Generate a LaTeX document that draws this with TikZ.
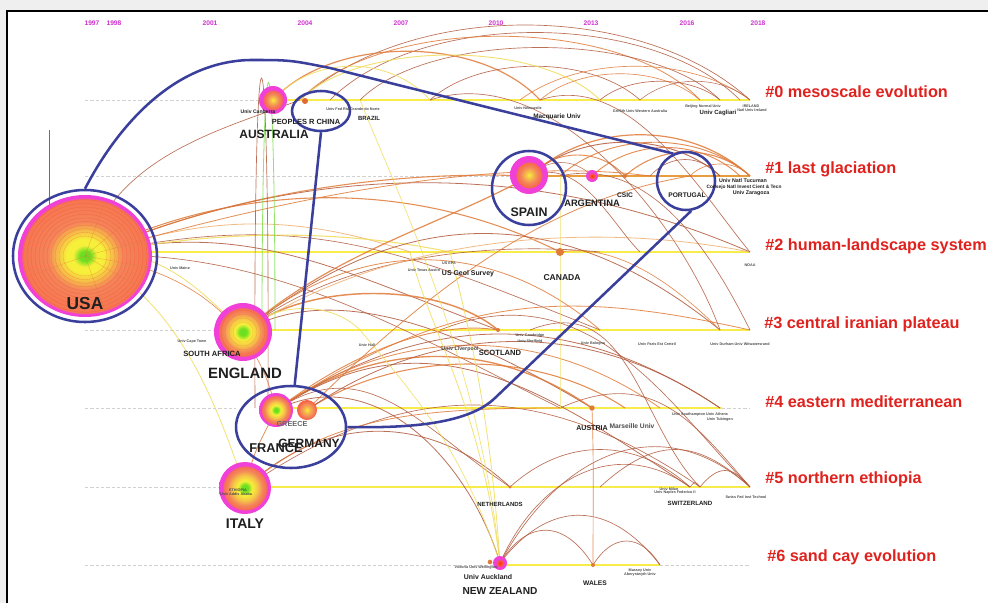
\documentclass[tikz,border=0pt]{standalone}
\usepackage{fontspec}
\setmainfont{Liberation Sans}
\usetikzlibrary{shapes.geometric}
\definecolor{bgc}{HTML}{EFEFEF}
\definecolor{cblue}{HTML}{3B3F9C}
\definecolor{cred}{HTML}{E0221E}
\definecolor{cmag}{HTML}{D030D0}
\definecolor{tl}{HTML}{F7EC4A}
\definecolor{cgreen}{HTML}{6CE020}
\definecolor{cyel}{HTML}{F6F03A}
\definecolor{cora}{HTML}{F4845A}
\definecolor{cpink}{HTML}{F040D8}
\definecolor{aO}{HTML}{E07A38}
\definecolor{aB}{HTML}{B0583A}
\definecolor{aY}{HTML}{F0DC58}
\definecolor{aL}{HTML}{F0B070}
\definecolor{aG}{HTML}{80E050}
\pgfdeclareradialshading{citeA}{\pgfpoint{0bp}{0bp}}{color(0bp)=(cgreen); color(2bp)=(cgreen); color(4.5bp)=(cyel); color(7bp)=(cyel); color(11bp)=(cyel!45!cora); color(14bp)=(cora); color(23.3bp)=(cora!90!red); color(23.8bp)=(cpink); color(25bp)=(cpink); color(50bp)=(cpink)}
\pgfdeclareradialshading{citeE}{\pgfpoint{0bp}{0bp}}{color(0bp)=(cgreen); color(3bp)=(cgreen); color(7bp)=(cyel); color(12bp)=(cyel!60!cora); color(17bp)=(cora); color(20.5bp)=(cora!85!red); color(21.2bp)=(cpink); color(25bp)=(cpink); color(50bp)=(cpink)}
\pgfdeclareradialshading{citeB}{\pgfpoint{0bp}{0bp}}{color(0bp)=(cyel); color(5bp)=(cyel!50!cora); color(11bp)=(cora); color(16.5bp)=(cora!80!red); color(17.5bp)=(cpink); color(25bp)=(cpink); color(50bp)=(cpink)}
\pgfdeclareradialshading{citeC}{\pgfpoint{0bp}{0bp}}{color(0bp)=(cyel); color(7bp)=(cyel!50!cora); color(17bp)=(cora); color(23bp)=(cora!75!red); color(25bp)=(cora!75!red); color(50bp)=(cora!75!red)}
\pgfdeclareradialshading{citeD}{\pgfpoint{0bp}{0bp}}{color(0bp)=(red!60!orange); color(10bp)=(cora!70!red); color(14bp)=(cpink); color(25bp)=(cpink); color(50bp)=(cpink)}
\pgfdeclarelayer{back}
\pgfdeclarelayer{bg}
\pgfsetlayers{back,bg,main}
\begin{document}
\begin{tikzpicture}[x=0.75pt,y=-0.75pt,
  dashl/.style={draw=black!18, line width=0.5pt, dash pattern=on 2.5pt off 1.5pt},
  tline/.style={draw=tl, line width=2.2pt},
  ring/.style={draw=cblue, line width=1.9pt, inner sep=0pt},
  bluel/.style={draw=cblue, line width=1.9pt},
  cnode/.style={inner sep=0pt, outer sep=0pt},
  dotn/.style={circle, inner sep=0pt, fill=aO},
  cty/.style={font=\bfseries\fontsize{#1}{#1}\selectfont, text=black!88, inner sep=0pt},
  clab/.style={font=\bfseries\fontsize{12.2}{13}\selectfont, text=cred, anchor=west, inner sep=0pt},
  yr/.style={font=\bfseries\fontsize{5}{5}\selectfont, text=cmag, inner sep=0pt},
  tinyl/.style={font=\bfseries\fontsize{2.8}{3}\selectfont, text=black!70, inner sep=0pt}
]
\useasboundingbox (0,0) rectangle (988,603);
\begin{pgfonlayer}{back}
\fill[bgc] (0,0) rectangle (988,603);
\fill[white] (7,11) rectangle (988,603);
\draw[black, line width=0.8pt] (7,603) -- (7,11) -- (988,11);
\end{pgfonlayer}

% ---- cited nodes ----
\node[cnode, ellipse, minimum width=100.5pt, minimum height=91.5pt, shading=citeA] (usa) at (85,256) {};
\foreach \r in {22,26,...,62} \draw[red!70!cora, opacity=0.3, line width=0.25pt] (usa.center) ellipse [x radius=\r*0.75pt, y radius=\r*0.68pt];
\foreach \ang in {15,40,70,200,290,330,350} \draw[aO, opacity=0.5, line width=0.3pt] (usa.center) -- (usa.\ang);
\node[cnode, circle, minimum size=21pt, shading=citeB] (aus) at (273,100) {};
\node[cnode, circle, minimum size=28.5pt, shading=citeB] (spain) at (529,175) {};
\node[cnode, circle, minimum size=9pt, shading=citeD] (arg) at (592,176) {};
\node[cnode, circle, minimum size=43.5pt, shading=citeE] (eng) at (243,332) {};
\foreach \r in {10,14,...,22} \draw[red!70!cora, opacity=0.25, line width=0.2pt] (eng.center) circle [radius=\r*0.75pt];
\node[cnode, circle, minimum size=25.5pt, shading=citeE] (fr) at (276,410) {};
\node[cnode, circle, minimum size=15pt, shading=citeC] (ge) at (307,410) {};
\node[cnode, circle, minimum size=39pt, shading=citeE] (it) at (245,488) {};
\node[cnode, circle, minimum size=10.5pt, shading=citeD] (nz) at (500,563) {};
\node[dotn, minimum size=4.5pt, fill=aO!85!red] (dt1) at (305,101) {};
\node[dotn, minimum size=6pt] (dt2) at (560,252) {};
\node[dotn, minimum size=3pt] (dt3) at (625,176) {};
\node[dotn, minimum size=3pt] (dt4) at (498,330) {};
\node[dotn, minimum size=4pt] (dt5) at (592,408) {};
\node[dotn, minimum size=2.5pt] (dt6) at (510,487) {};
\node[dotn, minimum size=3pt] (dt7) at (593,565) {};
\node[dotn, minimum size=3.5pt] (dt8) at (490,562) {};

% ---- timeline anchor points ----
\foreach \x in {273,300,330,360,430,520,540,600,640,700,720,740,750} \coordinate (a\x) at (\x,100);
\foreach \x in {530,560,592,625,650,690,720,740,750} \coordinate (b\x) at (\x,176);
\foreach \x in {410,450,560,600,640,750} \coordinate (c\x) at (\x,252);
\foreach \x in {262,275,360,440,498,530,600,720,750} \coordinate (d\x) at (\x,330);
\foreach \x in {255,268,560,592,625,660,720} \coordinate (e\x) at (\x,408);
\foreach \x in {510,600,690,700,750} \coordinate (f\x) at (\x,487);
\foreach \x in {593,660} \coordinate (g\x) at (\x,565);
\coordinate (v1) at (49,130);
\coordinate (v2) at (49,240);

\begin{pgfonlayer}{bg}
% timelines
\draw[dashl] (85,100) -- (262,100);
\draw[tline] (285,100) -- (750,100);
\draw[dashl] (85,176) -- (510,176);
\draw[draw=aO!70!tl, line width=1.6pt] (545,176) -- (750,176);
\draw[tline] (150,252) -- (750,252);
\draw[dashl] (85,330) -- (214,330);
\draw[tline] (270,330) -- (750,330);
\draw[dashl] (85,408) -- (236,408);
\draw[tline] (290,408) -- (722,408);
\draw[dashl] (722,408) -- (750,408);
\draw[dashl] (85,487) -- (219,487);
\draw[tline] (270,487) -- (750,487);
\draw[dashl] (85,565) -- (493,565);
\draw[tline] (505,565) -- (660,565);
\draw[dashl] (660,565) -- (750,565);
% arcs
\foreach \p/\q/\u/\v/\w/\z/\c/\lw in {
 a300/a750/110/-100/-110/-100/aB/0.5pt,
 a330/a740/90/-90/-90/-90/aB/0.5pt,
 a300/a700/80/-85/-80/-85/aO/0.6pt,
 a360/a720/70/-70/-70/-70/aB/0.5pt,
 a273/a540/60/-65/-60/-65/aO/0.9pt,
 a430/a640/50/-45/-50/-45/aB/0.5pt,
 a520/a750/60/-45/-60/-45/aO/0.5pt,
 a300/a600/60/-60/-60/-60/aY/0.7pt,
 a273/a430/40/-45/-40/-45/aY/0.6pt,
 a600/a720/30/-25/-30/-25/aB/0.5pt,
 a540/a700/40/-35/-40/-35/aO/0.5pt,
 a640/a750/30/-25/-30/-25/aB/0.4pt,
 b530/b750/60/-55/-60/-55/aO/0.9pt,
 b530/b720/50/-45/-50/-45/aB/0.7pt,
 b560/b750/50/-45/-50/-45/aO/0.7pt,
 b592/b740/40/-38/-40/-38/aO/0.7pt,
 b625/b750/35/-32/-35/-32/aO/0.8pt,
 b650/b720/20/-22/-20/-22/aB/0.5pt,
 b530/b625/25/-28/-25/-28/aO/0.7pt,
 b690/b750/15/-16/-15/-16/aO/0.5pt,
 b530/b592/18/-18/-18/-18/aB/0.4pt,
 usa.center/c560/150/-75/-150/-75/aO/0.8pt,
 usa.center/c750/220/-95/-220/-95/aB/0.6pt,
 usa.center/b530/160/-70/-120/-5/aO/0.8pt,
 usa.center/d498/160/-40/-160/-60/aB/0.6pt,
 usa.center/d600/220/-50/-200/-80/aB/0.5pt,
 usa.center/e560/180/-10/-160/-80/aB/0.5pt,
 usa.center/a300/30/-100/-80/30/aB/0.5pt,
 usa.center/eng.center/70/-15/-40/-40/aY/0.6pt,
 usa.center/it.center/90/40/-30/-90/aY/0.6pt,
 usa.center/c410/120/-40/-120/-40/aL/0.6pt,
 usa.center/b650/200/-60/-150/-20/aO/0.6pt,
 usa.center/fr.center/100/10/-20/-90/aO/0.5pt,
 usa.center/c450/120/-25/-120/-25/aY/0.8pt,
 eng.center/d498/60/-50/-60/-50/aO/1.1pt,
 eng.center/d720/160/-130/-160/-130/aB/0.6pt,
 eng.center/d600/110/-95/-110/-95/aO/0.6pt,
 eng.center/c600/100/-80/-100/-10/aB/0.5pt,
 eng.center/e592/100/-60/-100/-60/aB/0.6pt,
 eng.center/b530/90/-80/-90/50/aO/0.9pt,
 eng.center/c750/150/-100/-150/-30/aL/0.6pt,
 eng.center/d360/30/-30/-30/-30/aY/0.6pt,
 fr.center/e592/100/-70/-100/-70/aO/1.0pt,
 fr.center/e720/150/-100/-150/-100/aB/0.6pt,
 fr.center/e660/120/-85/-120/-85/aO/0.6pt,
 fr.center/d498/80/-60/-60/-10/aO/0.7pt,
 fr.center/f690/150/-100/-150/-100/aB/0.6pt,
 fr.center/f510/90/-60/-90/-60/aB/0.5pt,
 fr.center/nz.center/100/-50/-30/-100/aB/0.6pt,
 fr.center/d750/180/-120/-180/-40/aO/0.6pt,
 ge.center/e625/90/-60/-90/-60/aO/0.8pt,
 ge.center/e720/130/-90/-130/-90/aB/0.6pt,
 ge.center/b690/150/-150/-120/20/aO/0.6pt,
 it.center/f510/80/-75/-80/-75/aB/0.6pt,
 it.center/f700/160/-110/-160/-110/aB/0.5pt,
 it.center/e560/80/-70/-150/0/aO/0.6pt,
 it.center/fr.center/10/-40/-20/40/aO/0.6pt,
 f510/f690/55/-50/-55/-50/aB/0.5pt,
 f600/f750/55/-50/-55/-50/aB/0.5pt,
 f690/f700/5/-6/-5/-6/aB/0.4pt,
 f700/f750/18/-22/-18/-22/aB/0.5pt,
 nz.center/f690/40/-90/-70/-50/aB/0.5pt,
 nz.center/f750/60/-110/-90/-80/aB/0.5pt,
 nz.center/g593/28/-45/-28/-45/aB/0.5pt,
 nz.center/g660/50/-65/-50/-65/aB/0.5pt,
 g593/g660/20/-32/-20/-32/aB/0.5pt,
 e592/g593/2/60/0/-60/aO/0.5pt,
 d440/f750/150/-60/-80/-80/aB/0.5pt,
 e560/f750/90/-40/-60/-70/aB/0.5pt,
 d530/f700/100/-40/-60/-60/aB/0.5pt,
 a430/d720/120/-40/-40/-110/aB/0.5pt,
 b560/d750/90/-20/-40/-80/aB/0.5pt,
 c560/d720/60/-10/-40/-40/aO/0.5pt,
 a540/c750/90/-30/-50/-60/aB/0.5pt,
 b530/c640/50/-20/-30/-30/aB/0.5pt,
 c410/nz.center/20/80/-20/-160/aY/0.6pt,
 c450/nz.center/20/80/-10/-150/aY/0.6pt,
 a360/nz.center/40/100/-20/-200/aY/0.5pt,
 d360/nz.center/50/60/-40/-120/aY/0.5pt,
 b560/c560/0/20/0/-20/aY/0.6pt,
 c560/e560/0/40/0/-40/aY/0.6pt,
 d262/d275/0/-330/0/-330/aG/0.6pt,
 e255/e268/-2/-440/2/-440/aB/0.5pt}
 \draw[draw=\c, line width=\lw, opacity=0.85] (\p) .. controls +(\u,\v) and +(\w,\z) .. (\q);
\draw[aB, line width=0.5pt] (v1) -- (v2);
\end{pgfonlayer}

% ---- blue outlines ----
\node[ring, ellipse, minimum width=108pt, minimum height=99pt] (usaring) at (85,256) {};
\node[ring, circle, minimum size=55.5pt] (spainring) at (529,188) {};
\node[ring, circle, minimum size=43.5pt] (portring) at (686,181) {};
\node[ring, ellipse, minimum width=43.5pt, minimum height=30pt] (chinaring) at (321,111) {};
\node[ring, ellipse, minimum width=82.5pt, minimum height=61.5pt] (francering) at (291,427) {};
\coordinate (bk0a) at (105,150);
\coordinate (bk0b) at (160,62);
\coordinate (bk1) at (250,60);
\coordinate (bk1c) at (290,60);
\coordinate (bk2) at (330,68);
\coordinate (bk3) at (495,398);
\coordinate (bk4) at (466,426);
\coordinate (bk5) at (400,428);
\draw[bluel] (usaring.north) .. controls (bk0a) and (bk0b) .. (bk1) .. controls (bk1c) .. (bk2) -- (portring.115);
\draw[bluel] (chinaring.south) -- (francering.85);
\draw[bluel] (portring.280) -- (bk3) .. controls (bk4) and (bk5) .. (francering.east);

% ---- years ----
\node[yr] (y97) at (92,23) {1997};
\node[yr] (y98) at (114,23) {1998};
\node[yr] (y01) at (210,23) {2001};
\node[yr] (y04) at (305,23) {2004};
\node[yr] (y07) at (401,23) {2007};
\node[yr] (y10) at (496,23) {2010};
\node[yr] (y13) at (591,23) {2013};
\node[yr] (y16) at (687,23) {2016};
\node[yr] (y18) at (758,23) {2018};

% ---- cluster labels ----
\node[clab] (k0) at (765,92) {\#0 mesoscale evolution};
\node[clab] (k1) at (765,169) {\#1 last glaciation};
\node[clab] (k2) at (765,246) {\#2 human-landscape system};
\node[clab] (k3) at (764,324) {\#3 central iranian plateau};
\node[clab] (k4) at (765,402) {\#4 eastern mediterranean};
\node[clab] (k5) at (765,479) {\#5 northern ethiopia};
\node[clab] (k6) at (767,557) {\#6 sand cay evolution};

% ---- country / institution labels ----
\node[cty=13] (lusa) at (85,304) {USA};
\node[cty=9] (laus) at (274,134) {AUSTRALIA};
\node[cty=5.6] (lchina) at (306,122) {PEOPLES R CHINA};
\node[cty=4.5] (lbrazil) at (369,118) {BRAZIL};
\node[cty=9.3] (lspain) at (529,212) {SPAIN};
\node[cty=7] (larg) at (592,203) {ARGENTINA};
\node[cty=5] (lcsic) at (625,195) {CSIC};
\node[cty=5] (lport) at (687,195) {PORTUGAL};
\node[cty=5.7] (lsa) at (212,354) {SOUTH AFRICA};
\node[cty=11.2] (leng) at (245,373) {ENGLAND};
\node[cty=5.5, text=black!60] (lgreece) at (292,424) {GREECE};
\node[cty=9.6] (lfrance) at (276,448) {FRANCE};
\node[cty=9] (lgermany) at (309,443) {GERMANY};
\node[cty=6.4] (lcanada) at (562,278) {CANADA};
\node[cty=5.2] (lusgs) at (468,274) {US Geol Survey};
\node[cty=5.7] (lscot) at (500,353) {SCOTLAND};
\node[cty=5.3] (laustria) at (592,428) {AUSTRIA};
\node[cty=5, text=black!70] (lmars) at (632,426) {Marseille Univ};
\node[cty=4.5] (lneth) at (500,504) {NETHERLANDS};
\node[cty=4.6] (lswitz) at (690,503) {SWITZERLAND};
\node[cty=10.5] (litaly) at (245,524) {ITALY};
\node[cty=7.6] (lnz) at (500,591) {NEW ZEALAND};
\node[cty=5.2] (lauck) at (488,577) {Univ Auckland};
\node[cty=5] (lwales) at (595,583) {WALES};
\node[cty=4.8] (lmacq) at (557,117) {Macquarie Univ};
\node[cty=4.5] (lcag) at (718,113) {Univ Cagliari};
\node[cty=4] (ltuc) at (743,181) {Univ Natl Tucuman};
\node[cty=3.6] (lcons) at (744,187) {Consejo Natl Invest Cient \& Tecn};
\node[cty=4] (lzar) at (751,193) {Univ Zaragoza};
\node[cty=3.8] (lcanb) at (258,112) {Univ Canberra};
\node[cty=4, text=black!70] (lliv) at (460,349) {Univ Liverpool};
\foreach \n/\x/\y/\t in {
 1/353/109/Univ Fed Rio Grande do Norte,
 2/528/108/Univ Newcastle,
 3/640/111/Griffith Univ Western Australia,
 4/703/107/Beijing Normal Univ,
 5/751/106/IRELAND,
 6/752/110/Natl Univ Ireland,
 7/192/342/Univ Cape Town,
 8/180/268/Univ Maine,
 9/367/345/Univ Hull,
 10/449/263/US EPA,
 11/424/270/Univ Texas Austin,
 12/530/336/Univ Cambridge,
 13/530/341/Univ Sheffield,
 14/593/344/Univ Bologna,
 15/657/344/Univ Paris Est Creteil,
 16/740/344/Univ Durham Univ Witwatersrand,
 17/700/415/Univ Southampton Univ Athens,
 18/720/420/Univ Tubingen,
 19/750/265/NOAA,
 20/669/489/Univ Milan,
 21/675/493/Univ Naples Federico II,
 22/746/497/Swiss Fed Inst Technol,
 23/476/568/Victoria Univ Wellington,
 24/640/571/Massey Univ,
 25/640/575/Aberystwyth Univ,
 26/238/490/ETHIOPIA,
 27/236/494/Univ Addis Ababa}
 \node[tinyl] (t\n) at (\x,\y) {\t};
\end{tikzpicture}
\end{document}
